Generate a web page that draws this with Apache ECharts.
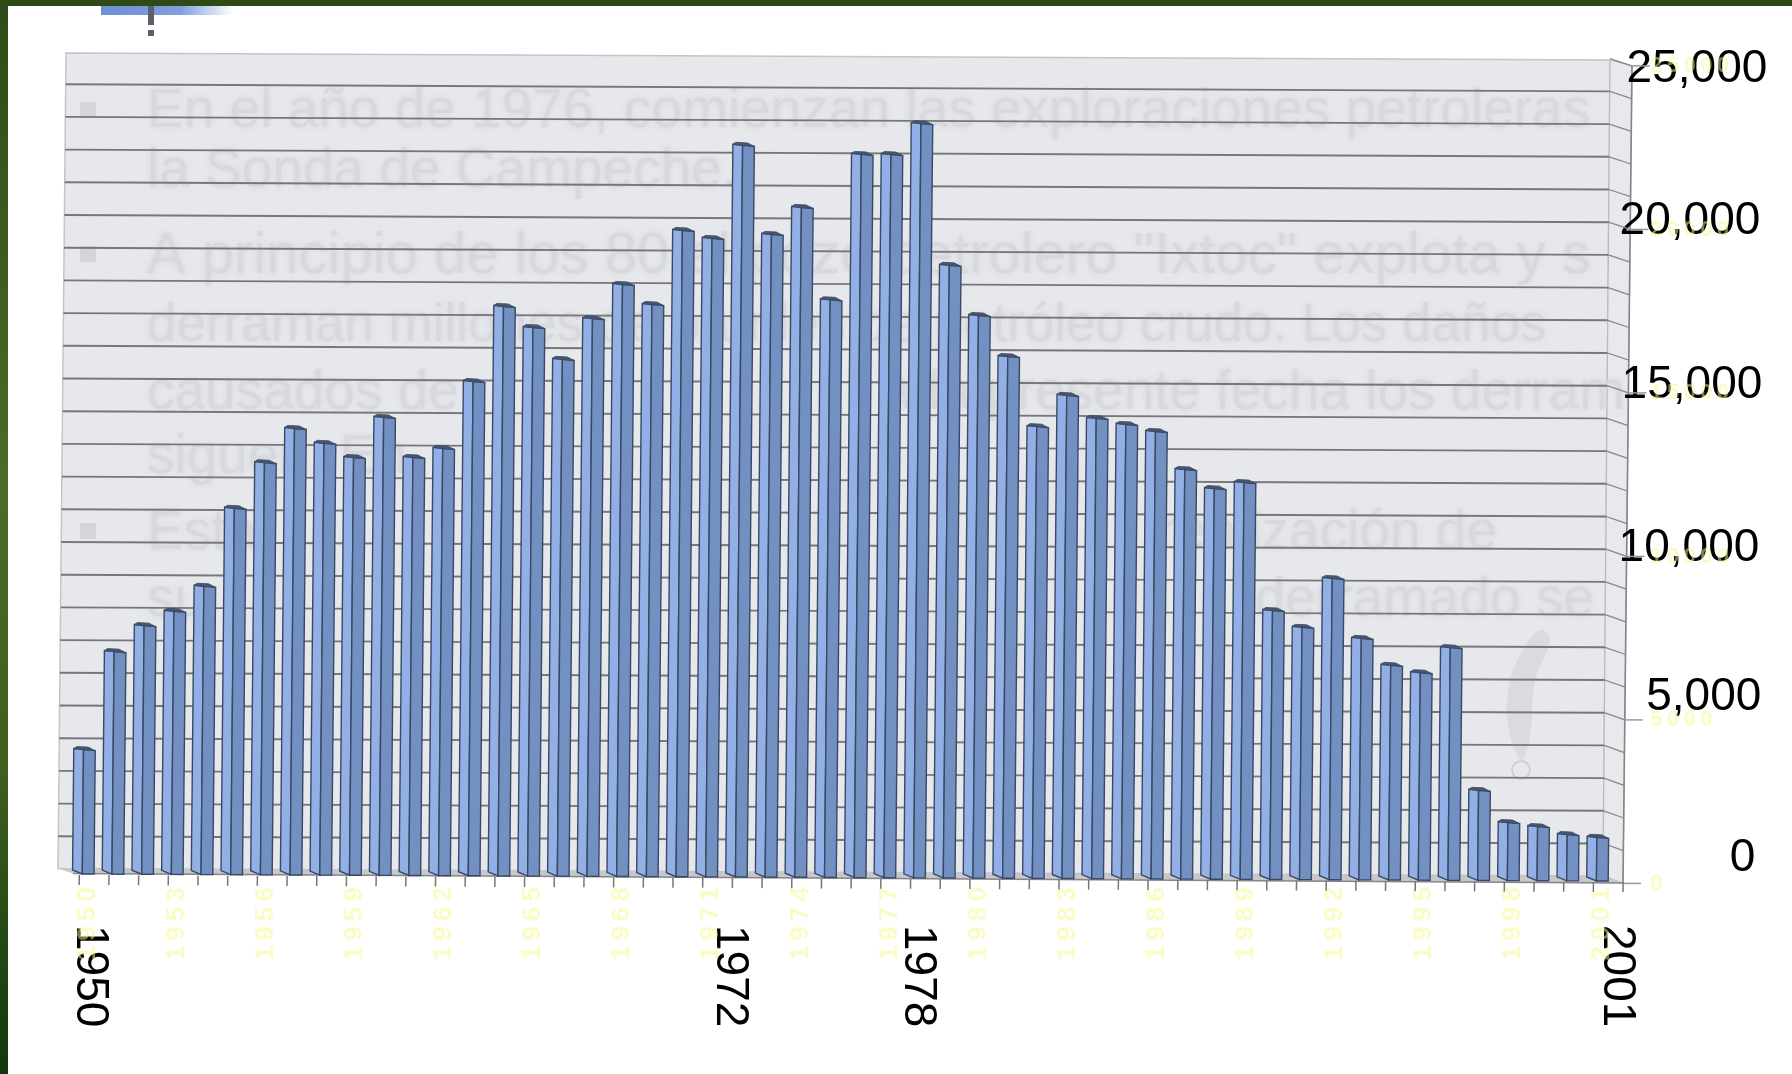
<!DOCTYPE html>
<html>
<head>
<meta charset="utf-8">
<style>html,body{margin:0;padding:0;background:#fff}#c{width:1792px;height:1074px}</style>
<script src="https://cdn.jsdelivr.net/npm/echarts@6/dist/echarts.min.js"></script>
</head>
<body>
<div id="c"></div>
<script>
const years = ['1950','1951','1952','1953','1954','1955','1956','1957','1958','1959','1960','1961','1962','1963','1964','1965','1966','1967','1968','1969','1970','1971','1972','1973','1974','1975','1976','1977','1978','1979','1980','1981','1982','1983','1984','1985','1986','1987','1988','1989','1990','1991','1992','1993','1994','1995','1996','1997','1998','1999','2000','2001'];
const values = [3850,6850,7650,8090,8860,11250,12650,13700,13250,12820,14050,12830,13110,15160,17460,16820,15850,17100,18150,17540,19810,19570,22420,19700,20530,17710,22160,22160,23110,18780,17250,16000,13860,14820,14120,13940,13730,12570,11990,12180,8270,7760,9260,7430,6610,6390,7160,2800,1820,1700,1460,1380];
const gridLevels = [0,1000,2000,3000,4000,5000,6000,7000,8000,9000,10000,11000,12000,13000,14000,15000,16000,17000,18000,19000,20000,21000,22000,23000,24000,25000];
const labelledYears = ['1950','1972','1978','2001'];
const axisMax = 25000;
const axisStep = 5000;

// Layout (pixels): the scanned chart is slightly rotated, so marks are sheared.
const G = {left:68.45, right:179.7, top:55.5, bottom:201};
const baseY = 1074 - G.bottom;
const skewX = 0.0098, skewY = 0.0046;
const P = (x, y) => [x + (baseY - y) * skewX, y + (x - 84) * skewY];
const yLabelShift = {0:[-14.6,12], 5000:[-12.6,6], 10000:[2.4,8], 15000:[2.4,5], 20000:[2.4,7], 25000:[13.9,0]}; // [down, left]
const xLabelShift = {'1950':6.7, '1972':-6.5, '1978':3.4, '2001':19};

const GREY = '#77777b';
const BLUE_L = '#93b0e6', BLUE_D = '#7290c2', EDGE = '#3a4963', CAP = '#4a5670';

function renderBar(params, api) {
  const i = api.value(0), v = api.value(1);
  const top = api.coord([i, v]), bot = api.coord([i, 0]);
  const band = api.size([1, 0])[0];
  const cx = bot[0], x0 = cx - 10.75, xs = cx - 1, x1 = cx + 10.75, yt = top[1], yb = bot[1];
  const poly = (pts, fill, stroke, lw) => ({
    type:'polygon', shape:{points:pts.map(p => P(p[0], p[1]))},
    style:{fill, stroke:stroke||EDGE, lineWidth:lw||1.4}
  });
  const line = (a, b) => ({type:'polyline', shape:{points:[P(a[0],a[1]),P(b[0],b[1])]}, style:{stroke:GREY, lineWidth:1.5, fill:null}});
  const kids = [];
  kids.push(line([cx-4, yb+2], [cx-4, yb+12]));
  if (params.dataIndex === values.length - 1) kids.push(line([cx-4+band, yb+2], [cx-4+band, yb+12]));
  kids.push(poly([[x0,yt+1.5],[xs,yt+2.5],[xs,yb+1],[x0,yb-3]], BLUE_L));
  kids.push(poly([[xs,yt+2.5],[x1,yt+3.5],[x1,yb+1],[xs,yb+1]], BLUE_D));
  kids.push(poly([[x0,yt+1.5],[xs,yt+2.5],[x1,yt+3.5],[x1-7,yt],[x0+3,yt-0.5]], CAP, EDGE, 0.8));
  return {type:'group', children:kids};
}

function renderGrid(params, api) {
  const v = api.value(1);
  const y = api.coord([0, v])[1] - 4;
  const f = v / axisMax;
  const xL = 58 + 8*f, xR = 1603 + 7*f, xF = 1623 + 9*f;
  const kids = [];
  if (v > 0 && v < axisMax) {
    kids.push({type:'polyline', shape:{points:[[xL,y],[xR,y+7.2]]}, style:{stroke:'#77777b', lineWidth:1.9, fill:null}});
  }
  if (v > 0) kids.push({type:'polyline', shape:{points:[[xR,y+7.2],[xF,y+14.4]]}, style:{stroke:'#88888c', lineWidth:1.3, fill:null}});
  if (v % axisStep === 0) kids.push({type:'polyline', shape:{points:[[xF,y+14.4],[xF+18,y+14.4]]}, style:{stroke:'#9a9a9e', lineWidth:1.5, fill:null}});
  return {type:'group', children:kids};
}

const ghostStyle = {fill:'#d7d9de', textShadowColor:'#d7d9de', textShadowBlur:6};
const ghost = (text, x, y, align, size) => ({
  type:'text', z:-8, x, y, silent:true,
  style:Object.assign({text, textAlign:align||'left', textVerticalAlign:'middle', font:(size||55)+'px "Liberation Sans"'}, ghostStyle)
});
const ghostBullet = (x,y) => ({type:'rect', z:-8, silent:true, shape:{x,y,width:16,height:16}, style:{fill:'#d3d5da'}});

const decor = [
  // frame
  {type:'rect', z:-10, silent:true, shape:{x:0,y:0,width:8,height:1074}, style:{fill:new echarts.graphic.LinearGradient(0,0,0,1,[
    {offset:0,color:'#2f4a17'},{offset:0.45,color:'#4c6b26'},{offset:0.72,color:'#3f5e1f'},{offset:1,color:'#10380c'}])}},
  {type:'rect', z:-10, silent:true, shape:{x:0,y:0,width:1792,height:6}, style:{fill:'#2f4a17'}},
  // slide logo fragment
  {type:'rect', z:-10, silent:true, shape:{x:101,y:6,width:132,height:9}, style:{fill:new echarts.graphic.LinearGradient(0,0,1,0,[
    {offset:0,color:'#6f8fd6'},{offset:0.6,color:'#80a0de'},{offset:1,color:'#ffffff'}])}},
  {type:'rect', z:-9, silent:true, shape:{x:148,y:6,width:6,height:19}, style:{fill:'#5d5f6b'}},
  {type:'rect', z:-9, silent:true, shape:{x:148,y:30,width:6,height:6}, style:{fill:'#5d5f6b'}},
  // back wall, right wall, floor
  {type:'polygon', z:-9, silent:true, shape:{points:[[66,53],[1610,60],[1603,876],[58,868.5]]}, style:{fill:'#e6e8ec', stroke:'#c4c5c9', lineWidth:1.5}},
  {type:'polygon', z:-9, silent:true, shape:{points:[[1610,60],[1632,66],[1623,883],[1603,876]]}, style:{fill:'#e8e9ed', stroke:'#b9babd', lineWidth:1.2}},
  {type:'polygon', z:-7, silent:true, shape:{points:[[58,868.5],[1603,876],[1623,883],[73,873.5]]}, style:{fill:'#c7c7cc'}},
  {type:'polyline', z:-7, silent:true, shape:{points:[[73,873.5],[1623,883],[1632,66]]}, style:{stroke:'#85858a', lineWidth:1.6, fill:null}},
  // show-through text of the reverse page
  ghostBullet(80,102), ghostBullet(80,246), ghostBullet(80,523),
  ghost('En el año de 1976, comienzan las exploraciones petroleras', 147, 112),
  ghost('la Sonda de Campeche.', 147, 172),
  ghost('A principio de los 80 el pozo petrolero "Ixtoc" explota y s', 147, 257, 'left', 58),
  ghost('derraman millones de barriles de petróleo crudo. Los daños', 147, 326, 'left', 53),
  ghost('causados de', 147, 394),
  ghost('a la presente fecha los derram', 1625, 394, 'right'),
  ghost('siguen. En', 147, 458),
  ghost('Esta', 147, 534),
  ghost('realización de', 1497, 534, 'right'),
  ghost('su', 147, 601),
  ghost('derramado se', 1594, 601, 'right'),
  {type:'polygon', z:-8, silent:true, shape:{smooth:0.4, points:[[1540,630],[1550,640],[1535,680],[1530,735],[1522,760],[1510,735],[1508,690],[1520,655]]}, style:{fill:'rgba(170,171,177,0.2)'}},
  {type:'circle', z:-8, silent:true, shape:{cx:1521,cy:770,r:9}, style:{fill:'none', stroke:'rgba(180,160,170,0.45)', lineWidth:1.5}}
];

const spaced = s => String(s).split('').join('\u2009');
const rich = {};
Object.keys(yLabelShift).forEach(k => {
  const [d, l] = yLabelShift[k];
  rich['y'+k] = {padding:[d>0?2*d:0, l, d<0?-2*d:0, 0], fontSize:46, fontFamily:'Liberation Sans', color:'#000', align:'right'};
});
const xRich = {};
Object.keys(xLabelShift).forEach(k => {
  const d = xLabelShift[k];
  xRich['x'+k] = {padding:[d<0?-2*d:0, 0, d>0?2*d:0, 0], fontSize:46, fontFamily:'Liberation Sans', color:'#000'};
});
const ghostFont = {color:'rgba(248,248,140,0.5)', fontFamily:'Liberation Sans', fontWeight:'bold'};

const chart = echarts.init(document.getElementById('c'), null, {renderer:'canvas'});
chart.setOption({
  animation:false,
  backgroundColor:'#ffffff',
  graphic:{elements:decor},
  grid:{left:G.left, right:G.right, top:G.top, bottom:G.bottom, containLabel:false},
  xAxis:[
    {type:'category', data:years, position:'bottom', axisLine:{show:false}, axisTick:{show:false}, splitLine:{show:false},
     axisLabel:{show:true, rotate:-90, margin:52, hideOverlap:false, interval:(i,v)=>labelledYears.includes(v),
       formatter:v=>`{x${v}|${v}}`, rich:xRich}},
    {type:'category', data:years, position:'bottom', axisLine:{show:false}, axisTick:{show:false}, splitLine:{show:false},
     axisLabel:{show:true, rotate:90, margin:14, interval:2, hideOverlap:false,
       formatter:v=>`{g|${spaced(v)}}`, rich:{g:Object.assign({fontSize:26, padding:[9,0,0,0]}, ghostFont)}}}
  ],
  yAxis:[
    {type:'value', position:'right', min:0, max:axisMax, interval:axisStep, axisLine:{show:false}, axisTick:{show:false}, splitLine:{show:false},
     axisLabel:{show:true, align:'right', margin:155, formatter:v=>`{y${v}|${v.toLocaleString('en-US')}}`, rich}},
    {type:'value', position:'right', min:0, max:axisMax, interval:axisStep, axisLine:{show:false}, axisTick:{show:false}, splitLine:{show:false},
     axisLabel:{show:true, align:'left', margin:38,
       formatter:v=>`{g|${spaced(v)}}`, rich:{g:Object.assign({fontSize:22, padding:[21,0,0,0]}, ghostFont)}}}
  ],
  series:[
    {type:'custom', name:'grid', z:2, silent:true, clip:false, renderItem:renderGrid, xAxisIndex:0, yAxisIndex:0,
     encode:{x:0,y:1}, data:gridLevels.map(v=>[0,v])},
    {type:'custom', name:'Producción', z:4, silent:true, clip:false, renderItem:renderBar, xAxisIndex:0, yAxisIndex:0,
     encode:{x:0,y:1}, data:values.map((v,i)=>[i,v])}
  ]
});
</script>
</body>
</html>
